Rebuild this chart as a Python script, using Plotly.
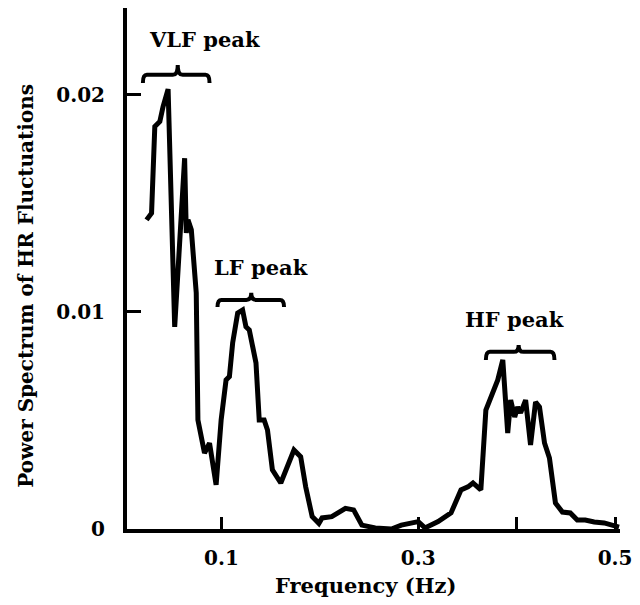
import plotly.graph_objects as go

# ---- data ----
freq_hz = [0.0239, 0.0290, 0.0323, 0.0374, 0.0407, 0.0458, 0.0525, 0.0593, 0.0626, 0.0643,
           0.0660, 0.0694, 0.0744, 0.0761, 0.0828, 0.0879, 0.0946, 0.0997, 0.1047, 0.1081,
           0.1114, 0.1165, 0.1215, 0.1249, 0.1283, 0.1351, 0.1384, 0.1434, 0.1468, 0.1518,
           0.1603, 0.1737, 0.1805, 0.1856, 0.1922, 0.1990, 0.2023, 0.2121, 0.2192, 0.2260,
           0.2343, 0.2377, 0.2427, 0.2563, 0.2727, 0.2828, 0.2929, 0.3000, 0.3068, 0.3202,
           0.3333, 0.3404, 0.3434, 0.3505, 0.3556, 0.3636, 0.3687, 0.3808, 0.3859, 0.3909,
           0.3939, 0.3980, 0.4010, 0.4040, 0.4091, 0.4141, 0.4192, 0.4232, 0.4283, 0.4333,
           0.4394, 0.4465, 0.4545, 0.4616, 0.4697, 0.4788, 0.4889, 0.5040]
power = [0.01424, 0.01455, 0.01854, 0.01877, 0.01946, 0.02026, 0.00931, 0.01424, 0.01708, 0.01364,
         0.01424, 0.01378, 0.01088, 0.00502, 0.00350, 0.00396, 0.00203, 0.00502, 0.00687, 0.00702,
         0.00857, 0.00995, 0.01009, 0.00932, 0.00917, 0.00765, 0.00502, 0.00502, 0.00456, 0.00272,
         0.00212, 0.00364, 0.00333, 0.00195, 0.00057, 0.00026, 0.00051, 0.00057, 0.00080, 0.00095,
         0.00088, 0.00057, 0.00018, 0.00005, 0.00000, 0.00018, 0.00028, 0.00034, 0.00005, 0.00034,
         0.00074, 0.00143, 0.00180, 0.00194, 0.00212, 0.00180, 0.00548, 0.00687, 0.00779, 0.00442,
         0.00594, 0.00516, 0.00562, 0.00535, 0.00594, 0.00387, 0.00585, 0.00562, 0.00396, 0.00327,
         0.00120, 0.00078, 0.00074, 0.00041, 0.00041, 0.00032, 0.00028, 0.00009]

x_tick_vals = [0.1, 0.3, 0.4, 0.5]
x_tick_text = ["0.1", "0.3", "", "0.5"]
y_tick_vals = [0, 0.01, 0.02]
y_tick_text = ["0", "0.01", "0.02"]

peak_labels = ["VLF peak", "LF peak", "HF peak"]
peak_label_x = [0.0828, 0.1404, 0.3980]
peak_label_y = [0.02253, 0.01203, 0.00963]
brace_x0 = [0.0202, 0.0960, 0.3687]
brace_x1 = [0.0879, 0.1636, 0.4384]
brace_mid = [0.0556, 0.1303, 0.4020]
brace_y = [0.02092, 0.01055, 0.00816]
brace_tip = [0.02138, 0.01088, 0.00848]
brace_end = [0.02055, 0.01023, 0.00779]

FONT = "DejaVu Serif"

fig = go.Figure()
fig.add_trace(go.Scatter(x=freq_hz, y=power, mode="lines",
                         line=dict(color="black", width=5, shape="linear"),
                         showlegend=False, hoverinfo="skip"))


def brace_path(x0, x1, xm, y, tip, end):
    r = 0.004
    r2 = 0.005
    return (f"M {x0},{end} Q {x0},{y} {x0 + r},{y} L {xm - r2},{y} "
            f"Q {xm},{y} {xm},{tip} Q {xm},{y} {xm + r2},{y} "
            f"L {x1 - r},{y} Q {x1},{y} {x1},{end}")


for i in range(len(peak_labels)):
    fig.add_shape(type="path", xref="x", yref="y",
                  path=brace_path(brace_x0[i], brace_x1[i], brace_mid[i],
                                  brace_y[i], brace_tip[i], brace_end[i]),
                  line=dict(color="black", width=4))
    fig.add_annotation(x=peak_label_x[i], y=peak_label_y[i], xref="x", yref="y",
                       text=f"<b>{peak_labels[i]}</b>", showarrow=False,
                       xanchor="center", yanchor="middle",
                       font=dict(family=FONT, size=21, color="black"))

fig.add_annotation(x=-0.2056, y=0.4664, xref="paper", yref="paper",
                   text="<b>Power Spectrum of HR Fluctuations</b>", textangle=-90,
                   xanchor="center", yanchor="middle",
                   showarrow=False, font=dict(family=FONT, size=20, color="black"))
fig.add_annotation(x=0.4839, y=-0.1075, xref="paper", yref="paper",
                   text="<b>Frequency (Hz)</b>", showarrow=False,
                   xanchor="center", yanchor="middle",
                   font=dict(family=FONT, size=21, color="black"))

fig.update_layout(
    width=640, height=605,
    margin=dict(l=127, r=17, t=8, b=76),
    paper_bgcolor="white", plot_bgcolor="white",
    xaxis=dict(range=[0.00404, 0.505], showgrid=False, zeroline=False,
               showline=True, linecolor="black", linewidth=4,
               ticks="inside", ticklen=12, tickwidth=3, tickcolor="black",
               tickvals=x_tick_vals, ticktext=x_tick_text,
               tickfont=dict(family=FONT, size=20, color="black", weight="bold"),
               ticklabelstandoff=8),
    yaxis=dict(range=[0, 0.024], showgrid=False, zeroline=False,
               showline=True, linecolor="black", linewidth=4,
               ticks="inside", ticklen=14, tickwidth=3, tickcolor="black",
               tickvals=y_tick_vals, ticktext=y_tick_text,
               tickfont=dict(family=FONT, size=20, color="black", weight="bold"),
               ticklabelstandoff=14),
)

fig.write_html("out.html")
